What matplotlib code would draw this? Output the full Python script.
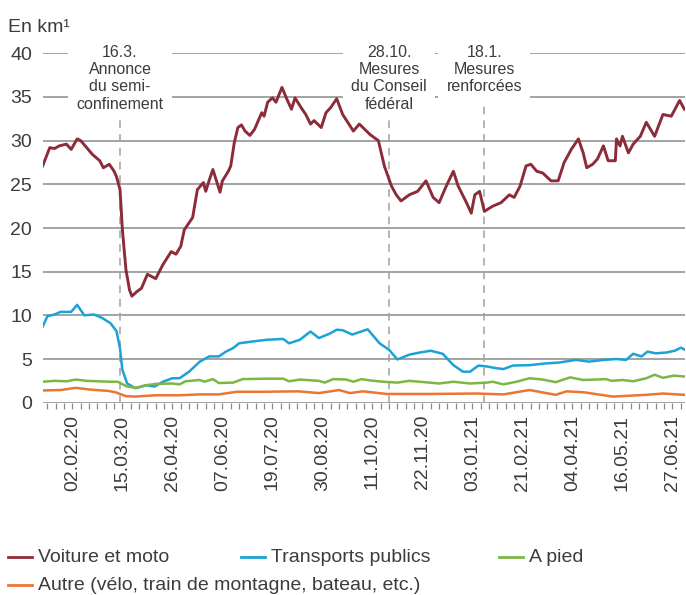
import matplotlib
matplotlib.use("Agg")
import matplotlib.pyplot as plt
from matplotlib.lines import Line2D

plt.rcParams['font.family'] = ['Liberation Sans', 'DejaVu Sans']

# days counted from 02.02.20, values in km
voiture = [(-25, 27.1), (-19, 29.2), (-15, 29.1), (-11, 29.4), (-5, 29.6), (-1, 29.0), (4, 30.2), (7, 30.0),
           (12, 29.2), (17, 28.4), (23, 27.7), (26, 26.9), (31, 27.3), (35, 26.5), (37, 25.9), (40, 24.4),
           (42, 19.8), (45, 15.2), (48, 12.9), (50, 12.2), (54, 12.7), (58, 13.1), (63, 14.7), (70, 14.2),
           (76, 15.8), (83, 17.3), (87, 17.0), (91, 17.9), (94, 19.8), (98, 20.6), (101, 21.2), (105, 24.4),
           (110, 25.2), (112, 24.2), (115, 25.5), (118, 26.7), (124, 24.1), (126, 25.4), (131, 26.5),
           (133, 27.1), (136, 29.8), (139, 31.5), (142, 31.8), (145, 31.1), (149, 30.6), (153, 31.3),
           (159, 33.2), (161, 32.8), (164, 34.4), (168, 34.9), (171, 34.4), (176, 36.1), (180, 34.8),
           (184, 33.6), (187, 34.9), (192, 33.8), (196, 33.0), (200, 31.9), (203, 32.3), (209, 31.5),
           (213, 33.2), (217, 33.8), (222, 34.8), (227, 33.0), (236, 31.1), (241, 31.9), (250, 30.7),
           (257, 30.0), (262, 27.1), (268, 24.8), (272, 23.8), (276, 23.1), (283, 23.8), (290, 24.2),
           (297, 25.4), (303, 23.5), (308, 22.9), (314, 24.8), (320, 26.5), (324, 24.8), (331, 22.9),
           (335, 21.7), (338, 23.8), (342, 24.2), (346, 21.9), (353, 22.5), (360, 22.9), (367, 23.8),
           (371, 23.5), (376, 24.8), (381, 27.1), (385, 27.3), (390, 26.5), (395, 26.3), (402, 25.4),
           (408, 25.4), (413, 27.5), (419, 29.0), (425, 30.2), (429, 28.6), (432, 26.9), (437, 27.3),
           (441, 27.9), (446, 29.4), (450, 27.7), (456, 27.7), (457, 30.2), (460, 29.4), (462, 30.5),
           (467, 28.6), (471, 29.6), (477, 30.5), (482, 32.1), (489, 30.5), (496, 33.0), (503, 32.8),
           (510, 34.6), (514, 33.6)]

transports = [(-25, 8.7), (-21, 9.9), (-15, 10.1), (-10, 10.4), (-5, 10.4), (-1, 10.4), (4, 11.2), (10, 10.0),
              (18, 10.1), (25, 9.7), (32, 9.1), (37, 8.2), (40, 6.2), (42, 3.75), (46, 2.2), (53, 1.65),
              (62, 2.0), (69, 1.85), (76, 2.4), (84, 2.8), (90, 2.8), (98, 3.55), (107, 4.7), (115, 5.3),
              (123, 5.3), (129, 5.85), (135, 6.25), (140, 6.8), (151, 7.0), (163, 7.2), (177, 7.3),
              (182, 6.8), (191, 7.2), (200, 8.15), (207, 7.4), (216, 7.9), (222, 8.35), (227, 8.3),
              (235, 7.8), (248, 8.4), (258, 6.8), (266, 6.05), (273, 4.95), (283, 5.5), (292, 5.75),
              (301, 5.95), (311, 5.6), (320, 4.3), (328, 3.55), (334, 3.55), (341, 4.25), (348, 4.15),
              (356, 3.95), (362, 3.85), (370, 4.25), (384, 4.3), (398, 4.5), (409, 4.6), (423, 4.9),
              (434, 4.7), (446, 4.9), (457, 5.0), (465, 4.9), (471, 5.6), (478, 5.3), (483, 5.85),
              (490, 5.65), (499, 5.75), (506, 5.95), (511, 6.3), (514, 6.1)]

a_pied = [(-25, 2.4), (-15, 2.5), (-5, 2.45), (3, 2.65), (12, 2.5), (22, 2.45), (32, 2.4), (38, 2.4),
          (46, 1.85), (53, 1.7), (62, 2.0), (70, 2.15), (84, 2.2), (90, 2.1), (95, 2.45), (107, 2.6),
          (111, 2.4), (118, 2.7), (123, 2.25), (135, 2.3), (143, 2.7), (163, 2.75), (177, 2.75),
          (182, 2.45), (191, 2.65), (207, 2.5), (212, 2.3), (219, 2.7), (230, 2.65), (236, 2.4),
          (243, 2.7), (250, 2.55), (261, 2.4), (273, 2.3), (283, 2.5), (300, 2.3), (308, 2.2),
          (320, 2.4), (334, 2.2), (348, 2.3), (353, 2.4), (362, 2.1), (373, 2.4), (384, 2.8),
          (395, 2.65), (406, 2.35), (418, 2.9), (429, 2.6), (440, 2.65), (448, 2.7), (453, 2.5),
          (462, 2.6), (471, 2.45), (482, 2.8), (489, 3.2), (496, 2.85), (505, 3.1), (514, 3.0)]

autre = [(-25, 1.4), (-10, 1.45), (3, 1.7), (15, 1.5), (30, 1.35), (36, 1.2), (45, 0.75), (53, 0.7),
         (70, 0.85), (90, 0.85), (107, 0.95), (123, 0.95), (138, 1.25), (160, 1.25), (190, 1.3),
         (207, 1.1), (224, 1.45), (233, 1.1), (244, 1.3), (264, 1.0), (272, 1.0), (300, 1.0),
         (339, 1.05), (362, 0.95), (384, 1.45), (406, 0.9), (415, 1.3), (429, 1.2), (454, 0.7),
         (482, 0.9), (496, 1.05), (514, 0.9)]

tick_labels = ["02.02.20", "15.03.20", "26.04.20", "07.06.20", "19.07.20", "30.08.20", "11.10.20",
               "22.11.20", "03.01.21", "21.02.21", "04.04.21", "16.05.21", "27.06.21"]

events = [(40, "16.3.\nAnnonce\ndu semi-\nconfinement"),
          (266, "28.10.\nMesures\ndu Conseil\nfédéral"),
          (346, "18.1.\nMesures\nrenforcées")]

series = [("Voiture et moto", voiture, "#8b2c38", 2.1),
          ("Transports publics", transports, "#1ba2d6", 1.8),
          ("A pied", a_pied, "#7cb743", 1.8),
          ("Autre (vélo, train de montagne, bateau, etc.)", autre, "#eb7532", 1.8)]

txt = "#3c3c3c"
grid = "#8a8a8a"

fig = plt.figure(figsize=(6.86, 5.95), dpi=100)
ax = fig.add_axes([0.063, 0.3232, 0.9355, 0.5872])

for name, pts, col, lw in series:
    ax.plot([p[0] for p in pts], [p[1] for p in pts], color=col, lw=lw, zorder=4, solid_joinstyle='round')

for y in range(0, 45, 5):
    ax.axhline(y, color=grid, lw=1.1, zorder=1)

for d, label in events:
    ax.plot([d, d], [0, 40], color="#a0a0a0", lw=1.1, ls=(0, (5, 4)), zorder=2)
    ax.text(d, 41.0, label, ha='center', va='top', fontsize=11.5, color=txt, linespacing=1.2,
            zorder=3, bbox=dict(facecolor='white', edgecolor='none', pad=6))

ax.set_xlim(-24.5, 514.5)
ax.set_ylim(0, 40)
ax.set_yticks(range(0, 45, 5))
ax.tick_params(axis='y', length=0, pad=8, labelsize=14, labelcolor=txt)
ax.set_xticks(range(-21, 515, 7), minor=True)
ax.set_xticks(range(0, 505, 42))
ax.set_xticklabels(tick_labels, rotation=90)
ax.tick_params(axis='x', which='both', length=4.5, width=0.9, color=grid, direction='out')
ax.tick_params(axis='x', which='major', labelsize=14, labelcolor=txt, pad=4)
for s in ax.spines.values():
    s.set_visible(False)

fig.text(8 / 686, 1 - 27 / 595, "En km¹", fontsize=14, color=txt, va='center', ha='left')

# legend drawn in figure pixels
leg_pos = [(8, 557), (241, 557), (499, 557), (8, 585)]
for (name, pts, col, lw), (x, y) in zip(series, leg_pos):
    yf = 1 - y / 595
    fig.add_artist(Line2D([x / 686, (x + 24) / 686], [yf, yf], color=col, lw=2.0))
    fig.text((x + 30) / 686, yf, name, fontsize=14, color=txt, va='center', ha='left')

fig.savefig("out.png", dpi=100)
